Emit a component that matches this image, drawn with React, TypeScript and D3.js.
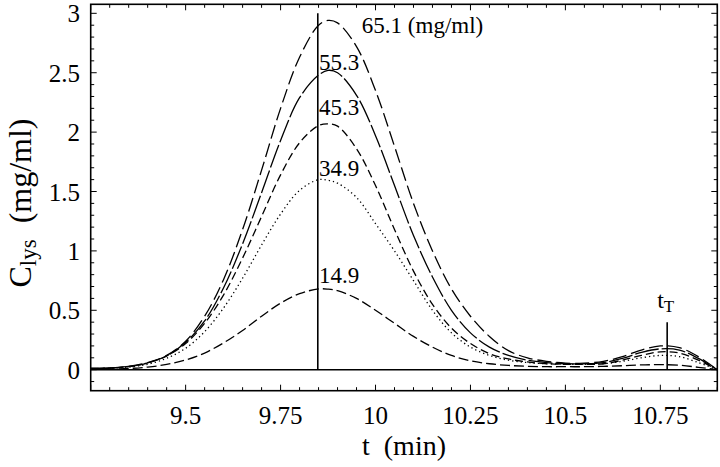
import React from "react";
import * as d3 from "d3";

// time grid (min)
const T = [9.25, 9.3, 9.35, 9.4, 9.45, 9.5, 9.55, 9.6, 9.65, 9.7, 9.75, 9.8, 9.85, 9.875, 9.9, 9.95, 10.0, 10.05, 10.1, 10.15, 10.2, 10.25, 10.3, 10.35, 10.4, 10.45, 10.5, 10.55, 10.6, 10.65, 10.7, 10.75, 10.8, 10.85, 10.9];

// lysozyme concentration series (mg/ml)
const C651 = [0.01, 0.015, 0.028, 0.06, 0.12, 0.24, 0.45, 0.76, 1.18, 1.68, 2.2, 2.63, 2.9, 2.94, 2.92, 2.72, 2.35, 1.88, 1.4, 1.0, 0.68, 0.45, 0.28, 0.16, 0.1, 0.07, 0.055, 0.055, 0.07, 0.11, 0.165, 0.2, 0.185, 0.11, 0.0];
const C553 = [0.01, 0.014, 0.027, 0.058, 0.115, 0.23, 0.41, 0.69, 1.06, 1.49, 1.93, 2.29, 2.48, 2.52, 2.5, 2.31, 1.97, 1.55, 1.13, 0.78, 0.5, 0.31, 0.19, 0.12, 0.08, 0.06, 0.05, 0.05, 0.06, 0.095, 0.145, 0.175, 0.165, 0.095, 0.0];
const C453 = [0.01, 0.013, 0.025, 0.056, 0.116, 0.22, 0.39, 0.63, 0.94, 1.29, 1.64, 1.91, 2.055, 2.07, 2.05, 1.86, 1.55, 1.18, 0.83, 0.55, 0.35, 0.22, 0.135, 0.09, 0.065, 0.05, 0.045, 0.045, 0.05, 0.08, 0.12, 0.15, 0.14, 0.08, 0.0];
const C349 = [0.008, 0.012, 0.022, 0.046, 0.096, 0.18, 0.32, 0.52, 0.77, 1.05, 1.31, 1.51, 1.6, 1.595, 1.57, 1.45, 1.23, 1.0, 0.75, 0.5, 0.31, 0.19, 0.12, 0.08, 0.06, 0.05, 0.045, 0.045, 0.05, 0.07, 0.1, 0.12, 0.11, 0.06, 0.0];
const C149 = [0.005, 0.006, 0.01, 0.022, 0.044, 0.082, 0.14, 0.226, 0.33, 0.45, 0.56, 0.64, 0.68, 0.678, 0.665, 0.6, 0.5, 0.39, 0.28, 0.19, 0.12, 0.075, 0.05, 0.036, 0.028, 0.025, 0.025, 0.025, 0.028, 0.033, 0.04, 0.042, 0.038, 0.02, 0.0];

const SERIES_NAMES = ["65.1", "55.3", "45.3", "34.9", "14.9"];
const SERIES_VALUES = [C651, C553, C453, C349, C149];
const SERIES_DASH = ["14,5", "24,3", "8,4", "1.3,3", "10,4"];
const LABEL_TEXT = ["65.1 (mg/ml)", "55.3", "45.3", "34.9", "14.9"];
const LABEL_T = [9.964, 9.851, 9.851, 9.851, 9.851];
const LABEL_Y = [2.835, 2.52, 2.14, 1.63, 0.73];

const X_TICKS = [9.5, 9.75, 10, 10.25, 10.5, 10.75];
const X_TICK_LABELS = ["9.5", "9.75", "10", "10.25", "10.5", "10.75"];
const Y_TICKS = [0, 0.5, 1, 1.5, 2, 2.5, 3];
const Y_TICK_LABELS = ["0", "0.5", "1", "1.5", "2", "2.5", "3"];

const PEAK_T = 9.848;
const TT = 10.768;

const FONT = "Liberation Serif, DejaVu Serif, Noto Serif, Times, serif";

export default function App() {
  const W = 720;
  const H = 467;
  const x = d3.scaleLinear().domain([9.25, 10.9]).range([90.7, 717.3]);
  const y = d3.scaleLinear().domain([-0.177, 3.076]).range([390.7, 4.3]);
  const [x0, x1] = x.range();
  const [y0, y1] = y.range();

  const line = d3
    .line<number>()
    .x((_, i) => x(T[i]))
    .y((d) => y(d))
    .curve(d3.curveCatmullRom.alpha(0.5));

  const xMinor = d3.range(0, 34).map((i) => 9.25 + i * 0.05);
  const yMinor = d3.range(-1, 31).map((i) => i * 0.1);
  const isXMajor = (v: number) => Math.abs(v * 4 - Math.round(v * 4)) < 1e-6;
  const isYMajor = (v: number) => Math.abs(v * 2 - Math.round(v * 2)) < 1e-6;
  const ts = { fontFamily: FONT } as React.CSSProperties;

  return (
    <svg
      width={W}
      height={H}
      style={{ position: "absolute", left: 0, top: 0, background: "#fff" }}
    >
      <rect x={0} y={0} width={W} height={H} fill="#fff" />
      {SERIES_VALUES.map((vals, i) => (
        <path
          key={SERIES_NAMES[i]}
          d={line(vals) || ""}
          fill="none"
          stroke="#000"
          strokeWidth={1.3}
          strokeDasharray={SERIES_DASH[i]}
        />
      ))}
      <line x1={x0} x2={x1} y1={y(0)} y2={y(0)} stroke="#000" strokeWidth={1.6} />
      <line x1={x(PEAK_T)} x2={x(PEAK_T)} y1={y(3)} y2={y(0)} stroke="#000" strokeWidth={1.6} />
      <line x1={x(TT)} x2={x(TT)} y1={y(0.4)} y2={y(0)} stroke="#000" strokeWidth={1.6} />
      <text x={x(TT) - 10} y={y(0.52)} fontSize={24} fill="#000" style={ts}>
        t<tspan fontSize={17} dy={4}>T</tspan>
      </text>
      {LABEL_TEXT.map((t, i) => (
        <text key={t} x={x(LABEL_T[i])} y={y(LABEL_Y[i])} fontSize={23} fill="#000" style={ts}>
          {t}
        </text>
      ))}
      <rect x={x0} y={y1} width={x1 - x0} height={y0 - y1} fill="none" stroke="#000" strokeWidth={1.6} />
      {xMinor.map((v, i) => {
        const len = isXMajor(v) ? 6 : 3.5;
        return (
          <g key={"xt" + i}>
            <line x1={x(v)} x2={x(v)} y1={y0} y2={y0 - len} stroke="#000" strokeWidth={1} />
            <line x1={x(v)} x2={x(v)} y1={y1} y2={y1 + len} stroke="#000" strokeWidth={1} />
          </g>
        );
      })}
      {yMinor.map((v, i) => {
        const len = isYMajor(v) ? 6 : 3.5;
        return (
          <g key={"yt" + i}>
            <line x1={x0} x2={x0 + len} y1={y(v)} y2={y(v)} stroke="#000" strokeWidth={1} />
            <line x1={x1} x2={x1 - len} y1={y(v)} y2={y(v)} stroke="#000" strokeWidth={1} />
          </g>
        );
      })}
      {X_TICKS.map((v, i) => (
        <text key={"xl" + i} x={x(v)} y={424} fontSize={25} textAnchor="middle" fill="#000" style={ts}>
          {X_TICK_LABELS[i]}
        </text>
      ))}
      {Y_TICKS.map((v, i) => (
        <text key={"yl" + i} x={80} y={y(v) + 9} fontSize={25} textAnchor="end" fill="#000" style={ts}>
          {Y_TICK_LABELS[i]}
        </text>
      ))}
      <text x={(x0 + x1) / 2} y={455} fontSize={28} textAnchor="middle" fill="#000" xmlSpace="preserve" style={ts}>
        t  (min)
      </text>
      <text
        transform={`translate(31, 203) rotate(-90)`}
        fontSize={32}
        textAnchor="middle"
        fill="#000"
        xmlSpace="preserve"
        style={ts}
      >
        C<tspan fontSize={23} dy={5}>lys</tspan>
        <tspan dy={-5}>  (mg/ml)</tspan>
      </text>
    </svg>
  );
}
